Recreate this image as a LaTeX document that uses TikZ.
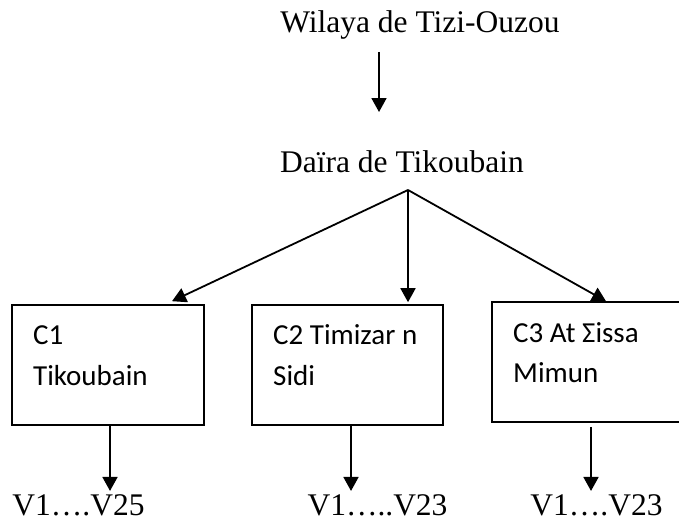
\documentclass[tikz,border=0pt]{standalone}
\usepackage{fontspec}
\setmainfont{Liberation Serif}
\newfontfamily\boxfont{Carlito}
\usetikzlibrary{arrows.meta}
\tikzset{
  serif/.style={font=\fontsize{31.5}{38}\selectfont, inner sep=3pt},
  boxtext/.style={font=\boxfont\fontsize{29}{35}\selectfont, inner sep=0pt, anchor=base west},
  commune/.style={draw, line width=1.6pt, minimum height=120pt, inner sep=0pt},
  arr/.style={line width=1.8pt, -{Triangle[width=15pt,length=14pt]}},
  link/.style={line width=1.8pt}
}
\begin{document}
\begin{tikzpicture}[x=1pt,y=-1pt]
\useasboundingbox (0,0) rectangle (679,527);
\clip (0,0) rectangle (679,527);
\node[serif, anchor=base] (wil) at (420,33) {Wilaya de Tizi-Ouzou};
\node[serif, anchor=base] (dai) at (402,172) {Daïra de Tikoubain};
\coordinate (apex) at (408,190);
\node[commune, minimum width=192pt] (c1) at (108,365) {};
\node[commune, minimum width=191pt] (c2) at (347.5,365) {};
\node[commune, minimum width=208pt] (c3) at (596,362) {};
\node[boxtext] (c1a) at (33,344) {C1};
\node[boxtext] (c1b) at (33,385) {Tikoubain};
\node[boxtext] (c2a) at (273,344) {C2 Timizar n};
\node[boxtext] (c2b) at (273,385) {Sidi};
\node[boxtext] (c3a) at (513,342) {C3 At Σissa};
\node[boxtext] (c3b) at (513,382) {Mimun};
\node[serif, anchor=base] (v1) at (78.5,515) {V1….V25};
\node[serif, anchor=base] (v2) at (377.5,515) {V1…..V23};
\node[serif, anchor=base] (v3) at (596.5,515) {V1….V23};
\draw[arr] ([shift={(-41,19)}]wil.base) -- ([shift={(-23,-60)}]dai.base);
\draw[arr] (apex) -- ([shift={(64,-3)}]c1.north);
\draw[arr] (apex) -- ([shift={(60.5,-2)}]c2.north);
\draw[arr] (apex) -- ([shift={(10,0)}]c3.north);
\draw[arr] ([xshift=2pt]c1.south) -- ([xshift=2pt]c1.south |- v1.north);
\draw[arr] ([xshift=3.5pt]c2.south) -- ([xshift=3.5pt]c2.south |- v2.north);
\draw[arr] ([shift={(-5,4)}]c3.south) -- ([xshift=-5pt]c3.south |- v3.north);
\end{tikzpicture}
\end{document}
